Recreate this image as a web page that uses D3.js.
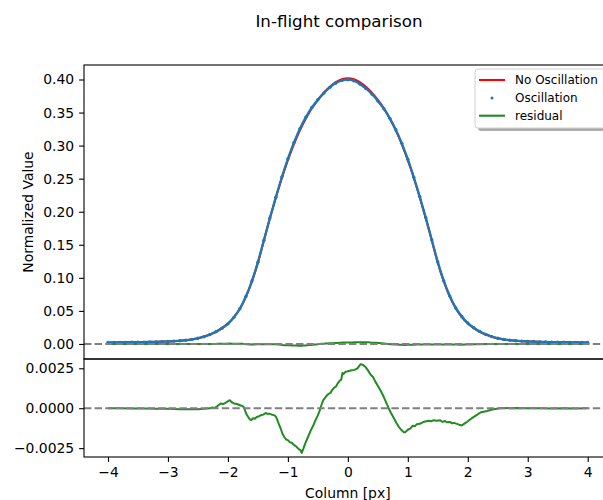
<!DOCTYPE html>
<html><head><meta charset="utf-8">
<script src="https://cdn.jsdelivr.net/npm/d3@7"></script>
<style>
body{margin:0;background:#fff;}
text{font-family:"DejaVu Sans",sans-serif;fill:#000;}
</style></head>
<body><svg id="c" width="603" height="500"></svg>
<script>
// ---- data ----
const titleText = "In-flight comparison";
const seriesNames = ["No Oscillation", "Oscillation", "residual"];
const columns = [-4.0,-3.9,-3.8,-3.7,-3.6,-3.5,-3.4,-3.3,-3.2,-3.1,-3.0,-2.9,-2.8,-2.7,-2.6,-2.5,-2.4,-2.3,-2.2,-2.1,-2.0,-1.9,-1.8,-1.7,-1.6,-1.5,-1.4,-1.3,-1.2,-1.1,-1.0,-0.9,-0.8,-0.7,-0.6,-0.5,-0.4,-0.3,-0.2,-0.1,0.0,0.1,0.2,0.3,0.4,0.5,0.6,0.7,0.8,0.9,1.0,1.1,1.2,1.3,1.4,1.5,1.6,1.7,1.8,1.9,2.0,2.1,2.2,2.3,2.4,2.5,2.6,2.7,2.8,2.9,3.0,3.1,3.2,3.3,3.4,3.5,3.6,3.7,3.8,3.9,4.0];
const noOscillation = [0.0021,0.0022,0.0023,0.0024,0.0025,0.0027,0.0028,0.0030,0.0032,0.0035,0.0038,0.0043,0.0049,0.0057,0.0069,0.0086,0.0110,0.0142,0.0185,0.0240,0.0308,0.0405,0.0535,0.0715,0.0945,0.1230,0.1565,0.1900,0.2215,0.2510,0.2780,0.3020,0.3230,0.3410,0.3565,0.3690,0.3800,0.3890,0.3960,0.4005,0.4020,0.4005,0.3960,0.3890,0.3800,0.3690,0.3565,0.3410,0.3230,0.3020,0.2780,0.2510,0.2215,0.1900,0.1565,0.1230,0.0945,0.0715,0.0535,0.0405,0.0308,0.0240,0.0185,0.0142,0.0110,0.0086,0.0069,0.0057,0.0049,0.0043,0.0038,0.0035,0.0032,0.0030,0.0028,0.0027,0.0025,0.0024,0.0023,0.0022,0.0021];
const oscillation = [0.0021,0.0022,0.0023,0.0024,0.0025,0.0027,0.0028,0.0030,0.0032,0.0035,0.0038,0.0043,0.0049,0.0057,0.0069,0.0086,0.0110,0.0142,0.0185,0.0237,0.0304,0.0402,0.0533,0.0718,0.0952,0.1235,0.1569,0.1904,0.2220,0.2525,0.2800,0.3043,0.3256,0.3431,0.3578,0.3695,0.3794,0.3881,0.3946,0.3985,0.3997,0.3981,0.3933,0.3864,0.3780,0.3676,0.3558,0.3412,0.3239,0.3034,0.2794,0.2521,0.2225,0.1908,0.1573,0.1238,0.0953,0.0724,0.0545,0.0416,0.0316,0.0245,0.0188,0.0144,0.0111,0.0086,0.0069,0.0057,0.0049,0.0043,0.0038,0.0035,0.0032,0.0030,0.0028,0.0027,0.0025,0.0024,0.0023,0.0022,0.0021];
const residualX = [-4.00,-3.80,-3.60,-3.40,-3.20,-3.00,-2.80,-2.60,-2.50,-2.40,-2.30,-2.26,-2.22,-2.18,-2.12,-2.08,-2.04,-1.97,-1.93,-1.90,-1.85,-1.82,-1.76,-1.73,-1.70,-1.68,-1.64,-1.61,-1.58,-1.55,-1.52,-1.48,-1.45,-1.41,-1.37,-1.34,-1.31,-1.27,-1.23,-1.20,-1.18,-1.15,-1.12,-1.09,-1.06,-1.03,-1.00,-0.97,-0.93,-0.90,-0.86,-0.82,-0.79,-0.77,-0.74,-0.71,-0.67,-0.62,-0.58,-0.54,-0.50,-0.47,-0.44,-0.41,-0.38,-0.35,-0.32,-0.29,-0.26,-0.23,-0.20,-0.17,-0.14,-0.11,-0.09,-0.07,-0.04,-0.01,0.03,0.07,0.11,0.16,0.21,0.25,0.29,0.33,0.38,0.42,0.46,0.52,0.56,0.60,0.64,0.68,0.72,0.77,0.81,0.85,0.89,0.93,0.96,1.00,1.04,1.08,1.12,1.15,1.20,1.24,1.27,1.31,1.35,1.39,1.43,1.48,1.54,1.58,1.62,1.65,1.70,1.74,1.77,1.82,1.86,1.90,1.95,1.99,2.05,2.10,2.16,2.21,2.32,2.43,2.54,2.80,3.00,3.20,3.40,3.60,3.80,4.00];
const residual = [0.00000,-0.00001,-0.00002,-0.00002,-0.00003,-0.00004,-0.00006,-0.00007,-0.00006,-0.00004,-0.00001,0.00004,0.00002,0.00012,0.00030,0.00026,0.00034,0.00050,0.00036,0.00030,0.00026,0.00022,0.00014,0.00004,-0.00030,-0.00044,-0.00068,-0.00075,-0.00062,-0.00066,-0.00055,-0.00050,-0.00044,-0.00040,-0.00030,-0.00036,-0.00034,-0.00040,-0.00044,-0.00052,-0.00070,-0.00100,-0.00127,-0.00160,-0.00180,-0.00196,-0.00200,-0.00212,-0.00218,-0.00230,-0.00240,-0.00256,-0.00262,-0.00280,-0.00252,-0.00220,-0.00185,-0.00140,-0.00112,-0.00075,-0.00045,-0.00015,0.00020,0.00050,0.00065,0.00080,0.00090,0.00096,0.00115,0.00128,0.00135,0.00155,0.00170,0.00180,0.00220,0.00215,0.00228,0.00230,0.00234,0.00238,0.00240,0.00250,0.00275,0.00272,0.00260,0.00240,0.00210,0.00195,0.00165,0.00128,0.00100,0.00070,0.00035,0.00000,-0.00030,-0.00065,-0.00092,-0.00117,-0.00135,-0.00150,-0.00150,-0.00135,-0.00128,-0.00110,-0.00112,-0.00100,-0.00098,-0.00090,-0.00085,-0.00082,-0.00078,-0.00082,-0.00075,-0.00079,-0.00075,-0.00086,-0.00080,-0.00088,-0.00086,-0.00095,-0.00092,-0.00098,-0.00104,-0.00108,-0.00095,-0.00085,-0.00068,-0.00054,-0.00040,-0.00027,-0.00017,-0.00006,0.00000,0.00001,-0.00001,0.00000,-0.00002,-0.00001,-0.00002,-0.00001];
const xTicks = [-4,-3,-2,-1,0,1,2,3,4];
const topYTicks = [0.00,0.05,0.10,0.15,0.20,0.25,0.30,0.35,0.40];
const botYTicks = [-0.0025,0.0000,0.0025];

// ---- layout ----
const svg = d3.select("#c");
const L = 84, R = 611.7, T1 = 65, B1 = 359, T2 = 359, B2 = 457;
const x = d3.scaleLinear().domain([-4.4, 4.4]).range([L, R]);
const y1 = d3.scaleLinear().domain([-0.02276, 0.42193]).range([B1, T1]);
const y2 = d3.scaleLinear().domain([-0.003055, 0.003081]).range([B2, T2]);
const minus = s => s.replace("-", "\u2212");
const red = "#ff0000", blue = "#1f77b4", green = "#228b22";

const defs = svg.append("defs");
defs.append("clipPath").attr("id","cp1").append("rect").attr("x",L).attr("y",T1).attr("width",R-L).attr("height",B1-T1);
defs.append("clipPath").attr("id","cp2").append("rect").attr("x",L).attr("y",T2).attr("width",R-L).attr("height",B2-T2);

// title
svg.append("text").attr("x",339).attr("y",27).attr("text-anchor","middle").style("font-size","16.7px").text(titleText);

// top panel
const g1 = svg.append("g").attr("clip-path","url(#cp1)");
const pts = columns.map((c,i)=>({x:c, r:noOscillation[i], o:oscillation[i]}));
const res = residualX.map((c,i)=>({x:c, v:residual[i]}));
g1.append("path").datum(pts).attr("fill","none").attr("stroke",red).attr("stroke-width",2.1)
  .attr("d", d3.line().x(d=>x(d.x)).y(d=>y1(d.r)).curve(d3.curveMonotoneX));
g1.append("path").datum(pts).attr("fill","none").attr("stroke",blue).attr("stroke-width",2.3)
  .attr("d", d3.line().x(d=>x(d.x)).y(d=>y1(d.o)).curve(d3.curveMonotoneX));
g1.selectAll("circle.o").data(pts).join("circle").attr("class","o")
  .attr("cx",d=>x(d.x)).attr("cy",d=>y1(d.o)).attr("r",1.7).attr("fill",blue);
g1.append("path").datum(res).attr("fill","none").attr("stroke",green).attr("stroke-width",2)
  .attr("d", d3.line().x(d=>x(d.x)).y(d=>y1(d.v)));
g1.append("line").attr("x1",L).attr("x2",R).attr("y1",y1(0)).attr("y2",y1(0))
  .attr("stroke","#808080").attr("stroke-width",2).attr("stroke-dasharray","7.4,3.2");

// bottom panel
const g2 = svg.append("g").attr("clip-path","url(#cp2)");
g2.append("path").datum(res).attr("fill","none").attr("stroke",green).attr("stroke-width",2)
  .attr("stroke-linejoin","round")
  .attr("d", d3.line().x(d=>x(d.x)).y(d=>y2(d.v)));
g2.append("line").attr("x1",L).attr("x2",R).attr("y1",y2(0)).attr("y2",y2(0))
  .attr("stroke","#808080").attr("stroke-width",2).attr("stroke-dasharray","7.4,3.2");

// axes
function styleAxis(g){
  g.selectAll(".domain").remove();
  g.selectAll(".tick line").attr("stroke","#000").attr("stroke-width",1.1);
  g.selectAll(".tick text").style("font-size","13.9px").style("font-family","DejaVu Sans");
}
svg.append("g").attr("transform",`translate(${L},0)`)
  .call(d3.axisLeft(y1).tickValues(topYTicks).tickSize(4.9).tickPadding(4.9).tickFormat(d=>minus(d3.format(".2f")(d))))
  .call(styleAxis);
svg.append("g").attr("transform",`translate(${L},0)`)
  .call(d3.axisLeft(y2).tickValues(botYTicks).tickSize(4.9).tickPadding(4.9).tickFormat(d=>minus(d3.format(".4f")(d))))
  .call(styleAxis);
svg.append("g").attr("transform",`translate(0,${B2})`)
  .call(d3.axisBottom(x).tickValues(xTicks).tickSize(4.9).tickPadding(4.9).tickFormat(d=>minus(String(d))))
  .call(styleAxis);

// frames
[[T1,B1],[T2,B2]].forEach(([t,b])=>{
  svg.append("rect").attr("x",L).attr("y",t).attr("width",R-L).attr("height",b-t)
    .attr("fill","none").attr("stroke","#000").attr("stroke-width",1.1);
});

// labels
svg.append("text").attr("transform",`translate(28,${(T1+B1)/2}) rotate(-90)`).attr("text-anchor","middle")
  .attr("dy","0.35em").style("font-size","13.9px").text("Normalized Value");
svg.append("text").attr("x",(L+R)/2).attr("y",498).attr("text-anchor","middle").style("font-size","13.9px").text("Column [px]");

// legend
const lg = svg.append("g");
const lx = 475, ly = 69, lw = 131, lh = 59;
lg.append("rect").attr("x",lx+3).attr("y",ly+3).attr("width",lw).attr("height",lh).attr("rx",3).attr("fill","#999").attr("opacity",0.8);
lg.append("rect").attr("x",lx).attr("y",ly).attr("width",lw).attr("height",lh).attr("rx",3).attr("fill","#fff").attr("stroke","#d0d0d0").attr("stroke-width",1);
const rowY = [80, 98, 115.7];
lg.append("line").attr("x1",479).attr("x2",505).attr("y1",rowY[0]).attr("y2",rowY[0]).attr("stroke",red).attr("stroke-width",2.1);
lg.append("circle").attr("cx",492).attr("cy",rowY[1]).attr("r",1.5).attr("fill",blue);
lg.append("line").attr("x1",479).attr("x2",505).attr("y1",rowY[2]).attr("y2",rowY[2]).attr("stroke",green).attr("stroke-width",2.1);
seriesNames.forEach((n,i)=>{
  lg.append("text").attr("x",515).attr("y",rowY[i]).attr("dy","0.36em").style("font-size","12px").text(n);
});
</script></body></html>
